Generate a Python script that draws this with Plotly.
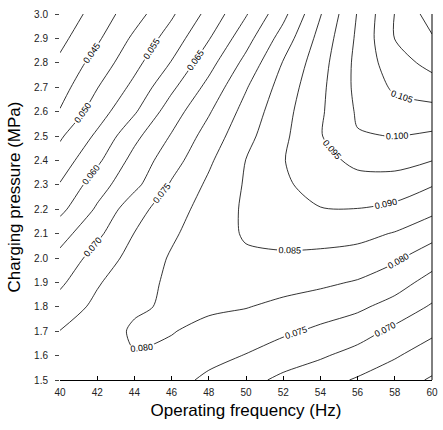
import plotly.graph_objects as go

# Operating frequency (Hz) grid
freq = [40, 42, 44, 46, 48, 50, 52, 54, 56, 58, 60]
# Charging pressure (MPa) grid
pressure = [1.5, 1.6, 1.7, 1.8, 1.9, 2.0, 2.1, 2.2, 2.3, 2.4, 2.5, 2.6, 2.7, 2.8, 2.9, 3.0]

# Values, one row per pressure (1.5 -> 3.0)
z_p15 = [0.0775, 0.0780, 0.0785, 0.0767, 0.0740, 0.0714, 0.0690, 0.0668, 0.0645, 0.0620, 0.0595]
z_p16 = [0.0768, 0.0775, 0.0798, 0.0790, 0.0765, 0.0748, 0.0722, 0.0706, 0.0682, 0.0655, 0.0624]
z_p17 = [0.0751, 0.0778, 0.0806, 0.0802, 0.0788, 0.0774, 0.0759, 0.0740, 0.0722, 0.0688, 0.0660]
z_p18 = [0.0721, 0.0762, 0.0794, 0.0806, 0.0807, 0.0802, 0.0788, 0.0775, 0.0759, 0.0732, 0.0694]
z_p19 = [0.0691, 0.0745, 0.0783, 0.0808, 0.0820, 0.0823, 0.0818, 0.0809, 0.0796, 0.0771, 0.0732]
z_p20 = [0.0664, 0.0721, 0.0768, 0.0805, 0.0830, 0.0843, 0.0845, 0.0839, 0.0831, 0.0808, 0.0772]
z_p21 = [0.0630, 0.0689, 0.0751, 0.0793, 0.0827, 0.0855, 0.0861, 0.0868, 0.0864, 0.0847, 0.0817]
z_p22 = [0.0587, 0.0657, 0.0732, 0.0777, 0.0822, 0.0857, 0.0880, 0.0898, 0.0899, 0.0888, 0.0863]
z_p23 = [0.0553, 0.0628, 0.0687, 0.0756, 0.0809, 0.0855, 0.0892, 0.0920, 0.0930, 0.0928, 0.0903]
z_p24 = [0.0523, 0.0590, 0.0667, 0.0729, 0.0792, 0.0851, 0.0898, 0.0932, 0.0963, 0.0967, 0.0951]
z_p25 = [0.0493, 0.0559, 0.0637, 0.0704, 0.0771, 0.0835, 0.0890, 0.0947, 0.0997, 0.1001, 0.0992]
z_p26 = [0.0453, 0.0526, 0.0594, 0.0676, 0.0745, 0.0818, 0.0883, 0.0943, 0.1006, 0.1032, 0.1033]
z_p27 = [0.0430, 0.0498, 0.0563, 0.0640, 0.0715, 0.0796, 0.0871, 0.0938, 0.1013, 0.1058, 0.1078]
z_p28 = [0.0409, 0.0470, 0.0535, 0.0603, 0.0682, 0.0765, 0.0853, 0.0930, 0.1014, 0.1079, 0.1115]
z_p29 = [0.0387, 0.0442, 0.0510, 0.0572, 0.0647, 0.0731, 0.0822, 0.0917, 0.1009, 0.1101, 0.1145]
z_p30 = [0.0365, 0.0421, 0.0479, 0.0543, 0.0615, 0.0696, 0.0786, 0.0897, 0.1003, 0.1101, 0.1173]

z = [z_p15, z_p16, z_p17, z_p18, z_p19, z_p20, z_p21, z_p22,
     z_p23, z_p24, z_p25, z_p26, z_p27, z_p28, z_p29, z_p30]

level_start, level_end, level_step = 0.040, 0.115, 0.005

x_ticks = [40, 42, 44, 46, 48, 50, 52, 54, 56, 58, 60]
y_ticks = [1.5, 1.6, 1.7, 1.8, 1.9, 2.0, 2.1, 2.2, 2.3, 2.4, 2.5, 2.6, 2.7, 2.8, 2.9, 3.0]

FONT = "Liberation Sans, Arial, sans-serif"

fig = go.Figure(go.Contour(
    x=freq, y=pressure, z=z,
    contours=dict(start=level_start, end=level_end, size=level_step,
                  coloring="none", showlabels=True,
                  labelfont=dict(family=FONT, size=9, color="black"),
                  labelformat=".3f"),
    line=dict(color="black", width=0.8, smoothing=0.8),
    showscale=False, hoverinfo="skip",
))

fig.update_layout(
    width=443, height=430,
    margin=dict(l=60, r=5, t=14, b=50),
    paper_bgcolor="white", plot_bgcolor="white",
    font=dict(family=FONT, color="black"),
    showlegend=False,
    shapes=[dict(type="line", xref="paper", yref="paper", x0=1, x1=1, y0=0, y1=1,
                 line=dict(color="black", width=1))],
)
fig.update_xaxes(
    range=[40, 60], tickvals=x_ticks, ticktext=[str(v) for v in x_ticks],
    showgrid=False, zeroline=False, showline=True, linecolor="black", linewidth=1,
    ticks="inside", ticklen=4, tickcolor="black",
    tickfont=dict(size=10, color="#222"), ticklabelstandoff=3,
    ticklabeloverflow="allow",
    title=dict(text="Operating frequency (Hz)", font=dict(size=17), standoff=7),
)
fig.update_yaxes(
    range=[1.5, 3.0], tickvals=y_ticks, ticktext=[f"{v:.1f}" for v in y_ticks],
    showgrid=False, zeroline=False, showline=False,
    ticks="outside", ticklen=4, tickcolor="#444",
    tickfont=dict(size=10, color="#222"), ticklabelstandoff=5,
    ticklabeloverflow="allow",
    title=dict(text="Charging pressure (MPa)", font=dict(size=17), standoff=9),
)

fig.write_html("out.html")
